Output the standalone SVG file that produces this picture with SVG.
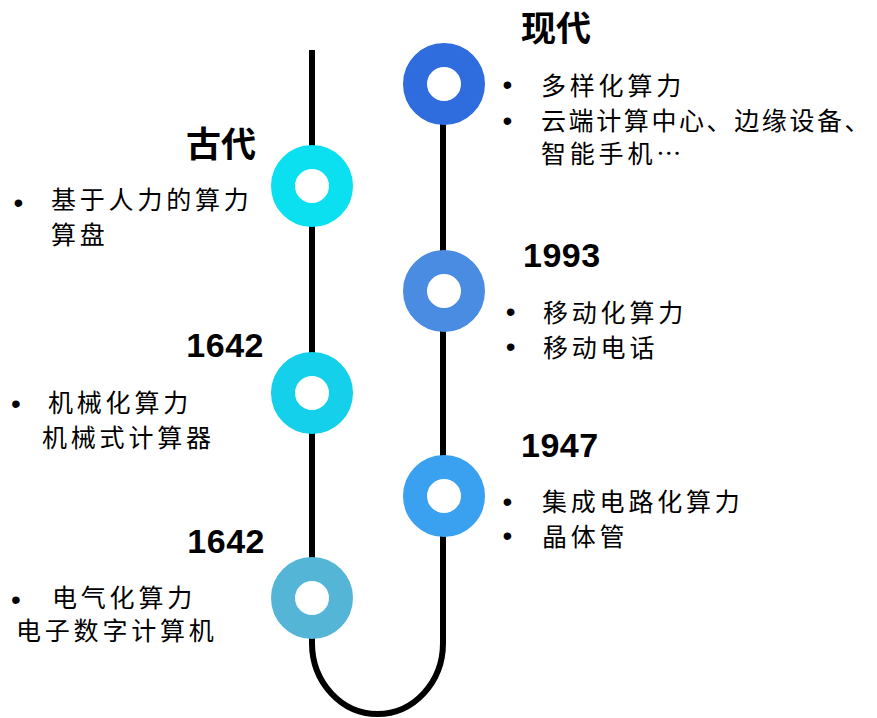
<svg xmlns="http://www.w3.org/2000/svg" width="877" height="718" viewBox="0 0 877 718">
<style>
.ring{fill:#fff;stroke-width:24}
.t{font-family:"Noto Sans CJK SC","Noto Sans",sans-serif;font-size:25px;letter-spacing:3.8px;fill:#000}
.b{font-family:"Liberation Sans",Arial,sans-serif;font-size:28px;fill:#000}
.h{font-family:"Noto Sans CJK SC",sans-serif;font-size:35px;font-weight:bold;fill:#000}
.y{font-family:"Liberation Sans",Arial,sans-serif;font-size:34px;font-weight:bold;fill:#000;letter-spacing:0.5px}
</style>
<rect width="877" height="718" fill="#fff"/>
<g id="connectors">
<path d="M312,50 V643 A65.5,71 0 0 0 443,643 V84" fill="none" stroke="#000" stroke-width="6"/>
</g>
<g id="node-gudai">
<circle class="ring" cx="312" cy="186" r="29" stroke="#0BE0F0"/>
<text class="h" x="256" y="157" text-anchor="end">古代</text>
<text class="b" x="13.6" y="211.5">•</text>
<text class="t" x="51" y="209">基于人力的算力</text>
<text class="t" x="51" y="244">算盘</text>
</g>
<g id="node-1642a">
<circle class="ring" cx="312" cy="393" r="29" stroke="#14D0EB"/>
<text class="y" x="264" y="357" text-anchor="end">1642</text>
<text class="b" x="11.1" y="412.5">•</text>
<text class="t" x="48" y="412">机械化算力</text>
<text class="t" x="42" y="447">机械式计算器</text>
</g>
<g id="node-1642b">
<circle class="ring" cx="312" cy="598" r="29" stroke="#55B5D6"/>
<text class="y" x="265" y="553" text-anchor="end">1642</text>
<text class="b" x="11.1" y="608.5">•</text>
<text class="t" x="52" y="607">电气化算力</text>
<text class="t" x="16" y="640">电子数字计算机</text>
</g>
<g id="node-xiandai">
<circle class="ring" cx="444" cy="84" r="29" stroke="#2F6CDE"/>
<text class="h" x="521" y="41">现代</text>
<text class="b" x="502.6" y="93.5">•</text>
<text class="t" x="541" y="95">多样化算力</text>
<text class="b" x="502.6" y="130">•</text>
<text class="t" x="541" y="130" style="letter-spacing:2.6px">云端计算中心、边缘设备、</text>
<text class="t" x="541" y="163">智能手机…</text>
</g>
<g id="node-1993">
<circle class="ring" cx="444" cy="291" r="29" stroke="#4A8CE2"/>
<text class="y" x="523" y="267">1993</text>
<text class="b" x="505.8" y="321.2">•</text>
<text class="t" x="543" y="322">移动化算力</text>
<text class="b" x="505.8" y="356.2">•</text>
<text class="t" x="543" y="357">移动电话</text>
</g>
<g id="node-1947">
<circle class="ring" cx="444" cy="496" r="29" stroke="#3AA1F0"/>
<text class="y" x="521" y="457">1947</text>
<text class="b" x="502.4" y="511.2">•</text>
<text class="t" x="542" y="511">集成电路化算力</text>
<text class="b" x="502.4" y="544.5">•</text>
<text class="t" x="542" y="546">晶体管</text>
</g>
</svg>
